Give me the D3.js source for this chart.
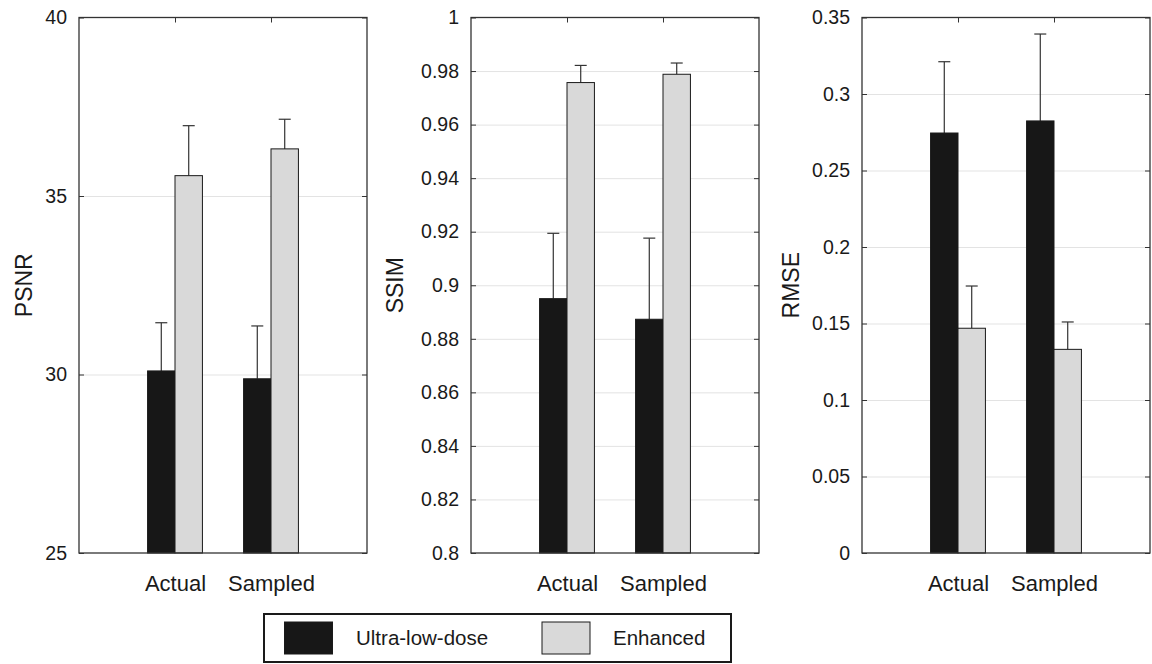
<!DOCTYPE html>
<html>
<head>
<meta charset="utf-8">
<script src="https://cdn.jsdelivr.net/npm/d3@7"></script>
<style>
  body { margin: 0; background: #fff; }
  text { font-family: "Liberation Sans", Arial, Helvetica, sans-serif; fill: #1a1a1a; }
  .grid line { stroke: #e3e3e3; stroke-width: 1; }
  .grid path { display: none; }
  .ax path { display: none; }
  .ax line { stroke: #333; stroke-width: 1; }
</style>
</head>
<body>
<div id="chart"></div>
<script>
// categories and series
var categories = ["Actual", "Sampled"];
var seriesNames = ["Ultra-low-dose", "Enhanced"];
var seriesColors = ["#171717", "#d9d9d9"];

// PSNR
var psnrLow = [30.10, 29.88];
var psnrLowErr = [1.35, 1.48];
var psnrEnh = [35.57, 36.32];
var psnrEnhErr = [1.40, 0.83];
var psnrTicks = [25, 30, 35, 40];

// SSIM
var ssimLow = [0.8950, 0.8873];
var ssimLowErr = [0.0244, 0.0303];
var ssimEnh = [0.9757, 0.9788];
var ssimEnhErr = [0.0064, 0.0042];
var ssimTicks = [0.8, 0.82, 0.84, 0.86, 0.88, 0.9, 0.92, 0.94, 0.96, 0.98, 1];

// RMSE
var rmseLow = [0.2745, 0.2824];
var rmseLowErr = [0.0466, 0.0568];
var rmseEnh = [0.1469, 0.1331];
var rmseEnhErr = [0.0276, 0.0179];
var rmseTicks = [0, 0.05, 0.1, 0.15, 0.2, 0.25, 0.3, 0.35];

var w = 1152;
var h = 664;

var svg = d3.select("#chart")
    .append("svg")
    .attr("width", w)
    .attr("height", h);

//panel size
var pw = 288;
var padTop = 17.5;
var ph = 535.5;
var barW = 2 / 7; //matlab grouped bar width per series

function panel(left, labelX, label, low, lowErr, enh, enhErr, ticks) {
    var g = svg.append("g").attr("transform", "translate(" + left + ",0)");

    var xScale = d3.scaleLinear().domain([0, 3]).range([0, pw]);
    var yScale = d3.scaleLinear()
        .domain([ticks[0], ticks[ticks.length - 1]])
        .range([padTop + ph, padTop]);

    //grid lines behind the bars
    g.append("g")
        .attr("class", "grid")
        .call(d3.axisLeft(yScale).tickValues(ticks.slice(1, -1)).tickSize(-pw).tickFormat(""));

    //rows of data per series
    var rows = [];
    categories.forEach(function(c, i) {
        rows.push({ x: i + 1 - barW, v: low[i], e: lowErr[i], s: 0 });
        rows.push({ x: i + 1, v: enh[i], e: enhErr[i], s: 1 });
    });

    //error bars (upper only)
    var eb = g.append("g").selectAll("g").data(rows).enter().append("g");
    eb.append("line")
        .attr("x1", function(d) { return xScale(d.x + barW / 2); })
        .attr("x2", function(d) { return xScale(d.x + barW / 2); })
        .attr("y1", function(d) { return yScale(d.v); })
        .attr("y2", function(d) { return yScale(d.v + d.e); })
        .attr("stroke", "#333").attr("stroke-width", 1.2);
    eb.append("line")
        .attr("x1", function(d) { return xScale(d.x + barW / 2) - 6; })
        .attr("x2", function(d) { return xScale(d.x + barW / 2) + 6; })
        .attr("y1", function(d) { return yScale(d.v + d.e); })
        .attr("y2", function(d) { return yScale(d.v + d.e); })
        .attr("stroke", "#333").attr("stroke-width", 1.2);

    //bars
    g.append("g").selectAll("rect").data(rows).enter().append("rect")
        .attr("x", function(d) { return xScale(d.x); })
        .attr("width", function(d) { return xScale(d.x + barW) - xScale(d.x); })
        .attr("y", function(d) { return yScale(d.v); })
        .attr("height", function(d) { return yScale(ticks[0]) - yScale(d.v); })
        .attr("fill", function(d) { return seriesColors[d.s]; })
        .attr("stroke", "#1a1a1a")
        .attr("stroke-width", 1);

    //box
    g.append("rect")
        .attr("x", 0).attr("y", padTop)
        .attr("width", pw).attr("height", ph)
        .attr("fill", "none").attr("stroke", "#333").attr("stroke-width", 1.3);

    //y axis left with labels, ticks inward
    var yAxis = d3.axisLeft(yScale)
        .tickValues(ticks)
        .tickFormat(function(d) { return +d.toFixed(2); })
        .tickSize(-5)
        .tickPadding(12);
    g.append("g").attr("class", "ax").call(yAxis)
        .selectAll("text").style("font-size", "19.5px");

    //right ticks
    g.append("g").attr("class", "ax")
        .attr("transform", "translate(" + pw + ",0)")
        .call(d3.axisRight(yScale).tickValues(ticks).tickSize(-5).tickFormat(""));

    //top ticks at categories
    g.append("g").attr("class", "ax")
        .attr("transform", "translate(0," + padTop + ")")
        .call(d3.axisTop(xScale).tickValues([1, 2]).tickSize(-5).tickFormat(""));

    //bottom category labels
    g.append("g").attr("class", "ax")
        .attr("transform", "translate(0," + (padTop + ph) + ")")
        .call(d3.axisBottom(xScale).tickValues([1, 2]).tickSize(0).tickPadding(22)
            .tickFormat(function(d) { return categories[d - 1]; }))
        .selectAll("text").style("font-size", "22px");

    //y label
    svg.append("text")
        .attr("transform", "translate(" + labelX + "," + (padTop + ph / 2) + ") rotate(-90)")
        .attr("text-anchor", "middle")
        .attr("dy", "0.36em")
        .style("font-size", "23px")
        .text(label);
}

panel(79, 24, "PSNR", psnrLow, psnrLowErr, psnrEnh, psnrEnhErr, psnrTicks);
panel(471, 395, "SSIM", ssimLow, ssimLowErr, ssimEnh, ssimEnhErr, ssimTicks);
panel(862, 790.5, "RMSE", rmseLow, rmseLowErr, rmseEnh, rmseEnhErr, rmseTicks);

//legend
var legend = svg.append("g");
legend.append("rect")
    .attr("x", 264).attr("y", 614)
    .attr("width", 467).attr("height", 48)
    .attr("fill", "#fff").attr("stroke", "#1a1a1a").attr("stroke-width", 2);

var legendX = [284.5, 542];
var legendTextX = [356, 613];
seriesNames.forEach(function(name, i) {
    legend.append("rect")
        .attr("x", legendX[i]).attr("y", 622)
        .attr("width", 48).attr("height", 32)
        .attr("fill", seriesColors[i])
        .attr("stroke", "#1a1a1a").attr("stroke-width", 1);
    legend.append("text")
        .attr("x", legendTextX[i]).attr("y", 638)
        .attr("dy", "0.36em")
        .style("font-size", "20.5px")
        .text(name);
});
</script>
</body>
</html>
